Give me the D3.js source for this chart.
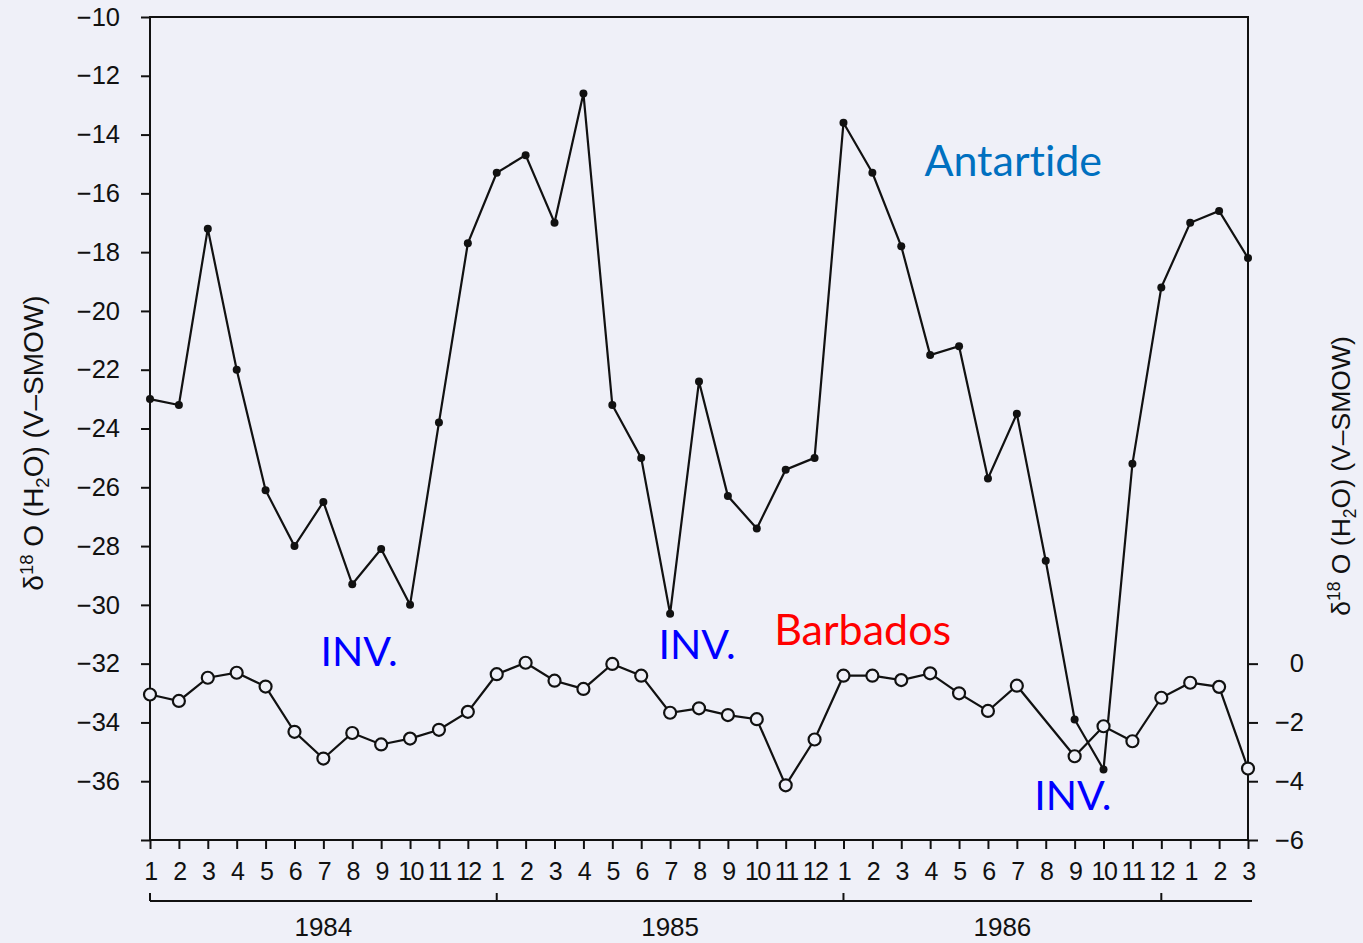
<!DOCTYPE html>
<html>
<head>
<meta charset="utf-8">
<script src="https://cdn.jsdelivr.net/npm/d3@7"></script>
<style>
  html, body { margin: 0; padding: 0; background: #eff0f8; }
  svg { display: block; }
  .tick text { font-family: "Liberation Sans", Arial, sans-serif; font-size: 24px; fill: #111; }
</style>
</head>
<body>
<svg id="chart" width="1363" height="943"></svg>
<script>
// ---- data ----
const monthLabels = ["1","2","3","4","5","6","7","8","9","10","11","12",
                     "1","2","3","4","5","6","7","8","9","10","11","12",
                     "1","2","3","4","5","6","7","8","9","10","11","12",
                     "1","2","3"];
// Antarctica, left axis (filled dots)
const antartide = [-23.0, -23.2, -17.2, -22.0, -26.1, -28.0, -26.5, -29.3, -28.1, -30.0, -23.8, -17.7,
                   -15.3, -14.7, -17.0, -12.6, -23.2, -25.0, -30.3, -22.4, -26.3, -27.4, -25.4, -25.0,
                   -13.6, -15.3, -17.8, -21.5, -21.2, -25.7, -23.5, -28.5, -33.9, -35.6, -25.2, -19.2,
                   -17.0, -16.6, -18.2];
// Barbados, right axis (open circles); month 8 of 1986 missing
const barbados = [-1.05, -1.27, -0.48, -0.31, -0.78, -2.32, -3.23, -2.36, -2.75, -2.55, -2.25, -1.64,
                  -0.36, 0.03, -0.58, -0.86, -0.01, -0.41, -1.67, -1.52, -1.75, -1.89, -4.14, -2.58,
                  -0.41, -0.41, -0.56, -0.33, -1.01, -1.61, -0.75, null, -3.15, -2.13, -2.64, -1.16,
                  -0.65, -0.79, -3.57];
const leftTicks = [-10,-12,-14,-16,-18,-20,-22,-24,-26,-28,-30,-32,-34,-36,-38];
const rightTicks = [0,-2,-4,-6];
const years = ["1984","1985","1986"];
const yearStarts = [0, 12, 24, 35];
const annotations = [
  {text: "Antartide", color: "#0070c0", xi: 26.8, v: -15.4, axis: "L", size: 43},
  {text: "Barbados", color: "#ff0000", xi: 21.6, v: 0.65, axis: "R", size: 43},
  {text: "INV.", color: "#0000ff", xi: 5.9, v: -0.07, axis: "R", size: 41},
  {text: "INV.", color: "#0000ff", xi: 17.6, v: 0.17, axis: "R", size: 41},
  {text: "INV.", color: "#0000ff", xi: 30.6, v: -4.97, axis: "R", size: 41}
];

// ---- layout ----
const svg = d3.select("#chart");
const L = 150, R = 1248, T = 17, B = 840;
const x = d3.scaleLinear().domain([0, monthLabels.length - 1]).range([L, R]);
const yL = d3.scaleLinear().domain([-38, -10]).range([B, T]);
const yR = d3.scaleLinear().domain([-6, 22]).range([B, T]);
const fmt = d3.format("d");

// frame
svg.append("rect").attr("x", L).attr("y", T).attr("width", R - L).attr("height", B - T)
  .attr("fill", "none").attr("stroke", "#111").attr("stroke-width", 2);

// left axis
const gl = svg.append("g").attr("transform", `translate(${L},0)`)
  .call(d3.axisLeft(yL).tickValues(leftTicks).tickSize(9).tickPadding(21)
        .tickFormat(d => d === -38 ? "" : fmt(d)));
gl.select(".domain").remove();
gl.selectAll(".tick line").attr("stroke", "#111").attr("stroke-width", 2);
gl.selectAll(".tick text").style("font-size", "25.5px");

// right axis
const gr = svg.append("g").attr("transform", `translate(${R},0)`)
  .call(d3.axisRight(yR).tickValues(rightTicks).tickSize(10).tickFormat(fmt));
gr.select(".domain").remove();
gr.selectAll(".tick line").attr("stroke", "#111").attr("stroke-width", 2);
gr.selectAll(".tick text").attr("text-anchor", "end").attr("x", 56).style("font-size", "25.5px");

// bottom axis
const gb = svg.append("g").attr("transform", `translate(0,${B})`)
  .call(d3.axisBottom(x).tickValues(d3.range(monthLabels.length)).tickSize(9).tickPadding(13)
        .tickFormat(i => monthLabels[i]));
gb.select(".domain").remove();
gb.selectAll(".tick line").attr("stroke", "#111").attr("stroke-width", 2);
gb.selectAll(".tick text").attr("letter-spacing", "-1.5px").style("font-size", "25px");

// year bracket
const yb = 901;
svg.append("line").attr("x1", x(0)).attr("x2", R + 4).attr("y1", yb).attr("y2", yb)
  .attr("stroke", "#111").attr("stroke-width", 2);
svg.selectAll(".ybt").data(yearStarts).join("line")
  .attr("x1", d => x(d)).attr("x2", d => x(d)).attr("y1", yb - 8).attr("y2", yb)
  .attr("stroke", "#111").attr("stroke-width", 2);
svg.selectAll(".ylab").data(years).join("text")
  .attr("x", (d, i) => (x(yearStarts[i]) + x(yearStarts[i + 1])) / 2)
  .attr("y", 936).attr("text-anchor", "middle")
  .attr("font-family", "Liberation Sans, Arial, sans-serif").attr("font-size", 26).attr("fill", "#111")
  .text(d => d);

// axis titles
function axisTitle(cx, cy, fs) {
  const t = svg.append("text").attr("transform", `translate(${cx},${cy}) rotate(-90)`)
    .attr("text-anchor", "middle")
    .attr("font-family", "Liberation Sans, Arial, sans-serif").attr("font-size", fs).attr("fill", "#111");
  const s = fs * 0.66;
  t.append("tspan").text("δ");
  t.append("tspan").attr("font-size", s).attr("dy", -fs * 0.36).text("18");
  t.append("tspan").attr("dy", fs * 0.36).text(" O (H");
  t.append("tspan").attr("font-size", s).attr("dy", fs * 0.22).text("2");
  t.append("tspan").attr("dy", -fs * 0.22).text("O) (V–SMOW)");
}
axisTitle(43, 443, 28);
axisTitle(1350, 476, 26.5);

// lines
const lineL = d3.line().x(d => x(d.i)).y(d => yL(d.v));
const lineR = d3.line().x(d => x(d.i)).y(d => yR(d.v));
const antData = antartide.map((v, i) => ({i, v}));
const barData = barbados.map((v, i) => ({i, v})).filter(d => d.v !== null);

svg.append("path").datum(barData).attr("d", lineR)
  .attr("fill", "none").attr("stroke", "#111").attr("stroke-width", 2.2);
svg.append("path").datum(antData).attr("d", lineL)
  .attr("fill", "none").attr("stroke", "#111").attr("stroke-width", 2.2);

svg.selectAll(".bar-pt").data(barData).join("circle")
  .attr("cx", d => x(d.i)).attr("cy", d => yR(d.v)).attr("r", 6)
  .attr("fill", "#eff0f8").attr("stroke", "#111").attr("stroke-width", 2.2);
svg.selectAll(".ant-pt").data(antData).join("circle")
  .attr("cx", d => x(d.i)).attr("cy", d => yL(d.v)).attr("r", 4)
  .attr("fill", "#111");

// annotations
svg.selectAll(".ann").data(annotations).join("text")
  .attr("x", d => x(d.xi)).attr("y", d => d.axis === "L" ? yL(d.v) : yR(d.v))
  .attr("font-family", "Lato, 'Open Sans', sans-serif").attr("font-size", d => d.size)
  .style("font-variant-ligatures", "none")
  .attr("fill", d => d.color).text(d => d.text);
</script>
</body>
</html>
